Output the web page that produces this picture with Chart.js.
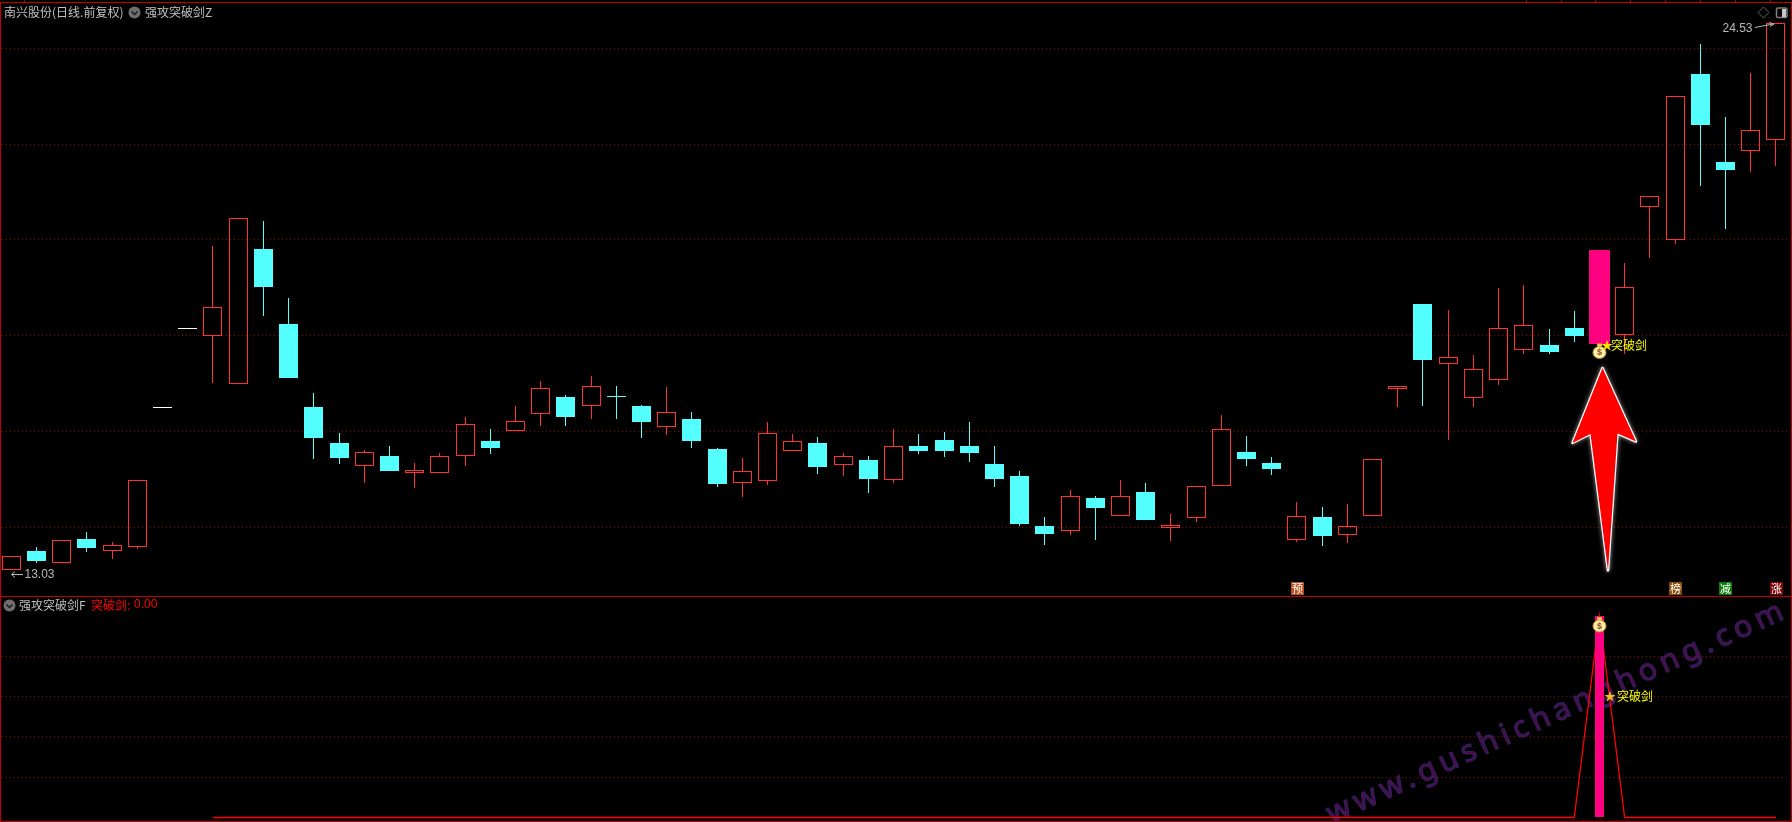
<!DOCTYPE html>
<html>
<head>
<meta charset="utf-8">
<title>强攻突破剑</title>
<script src="https://cdn.jsdelivr.net/npm/chart.js@4"></script>
<style>
	html, body { margin: 0; padding: 0; background: #000; overflow: hidden; }
	canvas { display: block; }
</style>
</head>
<body>
<canvas id="klineChart" width="1792" height="822"></canvas>
<script>
"use strict";

const opens = [13.10, 13.50, 13.25, 13.75, 13.51, 13.58, 16.48, 18.13, 18.00, 17.00, 19.81, 18.24, 16.51, 15.76, 15.28, 15.49, 15.14, 15.14, 15.49, 15.80, 16.01, 16.37, 16.72, 16.54, 16.71, 16.53, 16.10, 16.26, 15.63, 14.93, 14.97, 15.60, 15.76, 15.30, 15.40, 14.99, 15.70, 15.82, 15.70, 15.32, 15.07, 14.03, 13.92, 14.61, 14.24, 14.73, 13.99, 14.20, 14.87, 15.57, 15.34, 13.74, 14.21, 13.84, 14.24, 16.89, 18.66, 17.41, 16.70, 17.08, 17.71, 17.80, 18.16, 17.83, 18.01, 20.69, 19.99, 23.46, 21.62, 21.86, 22.08];
const highs = [13.39, 13.59, 13.73, 13.90, 13.69, 14.99, 16.48, 18.13, 19.87, 20.45, 20.39, 18.78, 16.80, 15.97, 15.61, 15.70, 15.34, 15.55, 16.30, 16.05, 16.53, 17.05, 16.76, 17.16, 16.95, 16.55, 16.93, 16.41, 15.65, 15.44, 16.20, 15.95, 15.88, 15.55, 15.49, 16.05, 15.95, 15.99, 16.20, 15.70, 15.17, 14.21, 14.78, 14.65, 14.99, 14.92, 14.28, 14.87, 16.34, 15.90, 15.47, 14.53, 14.42, 14.48, 15.42, 16.94, 18.66, 18.53, 17.60, 18.99, 19.06, 18.14, 18.51, 19.79, 19.52, 20.91, 23.00, 24.09, 22.56, 23.48, 24.53];
const lows = [13.10, 13.26, 13.25, 13.49, 13.34, 13.55, 16.48, 18.13, 17.02, 17.00, 18.41, 17.11, 15.42, 15.32, 14.92, 15.17, 14.82, 15.14, 15.28, 15.53, 16.01, 16.11, 16.11, 16.26, 16.26, 15.86, 15.92, 15.65, 14.84, 14.63, 14.88, 15.60, 15.11, 15.07, 14.71, 14.92, 15.53, 15.47, 15.36, 14.84, 14.03, 13.63, 13.84, 13.73, 14.24, 14.15, 13.71, 14.11, 14.87, 15.28, 15.09, 13.69, 13.61, 13.67, 14.24, 16.51, 16.53, 15.82, 16.51, 16.97, 17.62, 17.62, 17.87, 17.83, 17.62, 19.63, 19.92, 21.13, 20.23, 21.42, 21.55];
const closes = [13.39, 13.30, 13.73, 13.57, 13.62, 14.99, 16.48, 18.13, 18.59, 20.45, 19.01, 17.11, 15.86, 15.44, 15.58, 15.17, 15.19, 15.48, 16.15, 15.65, 16.21, 16.90, 16.30, 16.94, 16.71, 16.20, 16.40, 15.80, 14.90, 15.17, 15.96, 15.79, 15.26, 15.48, 15.01, 15.69, 15.59, 15.59, 15.55, 15.01, 14.07, 13.86, 14.65, 14.40, 14.65, 14.15, 14.04, 14.87, 16.06, 15.42, 15.22, 14.23, 13.82, 14.02, 15.42, 16.94, 17.49, 17.55, 17.30, 18.15, 18.22, 17.66, 17.99, 19.79, 19.01, 20.91, 23.00, 22.40, 21.46, 22.29, 24.52];

// the day the signal fires
const signalIndex = [63];
const signalCandleLow = [17.83];
const signalCandleHigh = [19.79];
const signalBar = [5];
// 突破剑 line in the lower pane, starts at candle 8
const signalLineStart = 8;
const signalLine = [
	0, 0, 0, 0, 0, 0, 0, 0, 0, 0,
	0, 0, 0, 0, 0, 0, 0, 0, 0, 0,
	0, 0, 0, 0, 0, 0, 0, 0, 0, 0,
	0, 0, 0, 0, 0, 0, 0, 0, 0, 0,
	0, 0, 0, 0, 0, 0, 0, 0, 0, 0,
	0, 0, 0, 0, 0, 5, 0, 0, 0, 0,
	0, 0, 0
];

const priceGrid = [14, 16, 18, 20, 22, 24];
const signalGrid = [1, 2, 3, 4];
const badges = [
	{ index: 51, text: "预", color: "#b5501c" },
	{ index: 66, text: "榜", color: "#8a4c0c" },
	{ index: 68, text: "减", color: "#0a7d0a" },
	{ index: 70, text: "涨", color: "#7d0508" }
];

const RED = "#ff3232";
const CYAN = "#54ffff";
const PINK = "#ff0080";
const FRAME = "#c00000";
const GRID = "#a00000";
const CJK = "\"Noto Sans CJK SC\", sans-serif";
const LATIN = "\"Liberation Sans\", sans-serif";

const candleColor = index => {
	if (opens[index] === closes[index]) {
		return index === 24 ? CYAN : "#ffffff";
	}
	return closes[index] > opens[index] ? RED : CYAN;
};

const candleFill = index => {
	if (opens[index] === closes[index]) {
		return candleColor(index);
	}
	return closes[index] > opens[index] ? "transparent" : CYAN;
};

const bodyData = opens.map((open, index) => ({ x: index, y: [open, closes[index]] }));
const upperWickData = opens.map((open, index) => ({ x: index, y: [Math.max(open, closes[index]), highs[index]] }));
const lowerWickData = opens.map((open, index) => ({ x: index, y: [lows[index], Math.min(open, closes[index])] }));

// bars land on fractional x, round them to whole pixels so edges stay sharp
const snapBars = {
	id: "snapBars",
	afterDatasetsUpdate(chart) {
		for (let meta of chart.getSortedVisibleDatasetMetas()) {
			if (meta.type !== "bar") {
				continue;
			}
			for (let bar of meta.data) {
				bar.x = Math.round(bar.x - bar.width / 2) + bar.width / 2;
				let top = Math.round(bar.y);
				let base = Math.round(bar.base);
				if (top === base && bar.y !== bar.base) {
					base = top + 1;
				}
				bar.y = top;
				bar.base = base;
			}
		}
	}
};

const drawWatermark = ctx => {
	ctx.save();
	ctx.translate(1332, 824);
	ctx.rotate(-24.4 * Math.PI / 180);
	ctx.font = "30px \"Noto Sans\", sans-serif";
	ctx.letterSpacing = "5.4px";
	ctx.textBaseline = "alphabetic";
	ctx.lineWidth = 1.2;
	ctx.strokeStyle = "rgba(50, 45, 120, 0.8)";
	ctx.strokeText("www.gushichanghong.com", 0, 0);
	ctx.fillStyle = "rgba(80, 18, 85, 0.85)";
	ctx.fillText("www.gushichanghong.com", 0, 0);
	ctx.restore();
};

const drawFrame = ctx => {
	ctx.fillStyle = FRAME;
	ctx.fillRect(0, 2, 1792, 1);
	ctx.fillRect(0, 2, 1, 820);
	ctx.fillRect(1791, 2, 1, 820);
	ctx.fillRect(0, 596, 1792, 1);
	ctx.fillRect(0, 821, 1792, 1);
	for (let x of [24, 1526, 1561, 1595, 1630, 1665, 1700, 1735, 1770]) {
		ctx.fillRect(x, 0, 1, 2);
	}
};

const drawToggle = (ctx, x, y) => {
	ctx.beginPath();
	ctx.arc(x, y, 6, 0, Math.PI * 2);
	ctx.fillStyle = "#6e6e6e";
	ctx.fill();
	ctx.beginPath();
	ctx.moveTo(x - 3, y - 1);
	ctx.lineTo(x, y + 2);
	ctx.lineTo(x + 3, y - 1);
	ctx.strokeStyle = "#1a1a1a";
	ctx.lineWidth = 1.5;
	ctx.stroke();
};

const drawText = (ctx, text, x, y, color, font) => {
	ctx.font = font;
	ctx.fillStyle = color;
	ctx.textAlign = "left";
	ctx.textBaseline = "middle";
	ctx.fillText(text, x, y);
};

const drawMoneyBag = (ctx, x, y) => {
	ctx.fillStyle = "#e8c020";
	ctx.fillRect(x - 2, y - 9, 5, 3);
	ctx.fillStyle = "#fff";
	ctx.fillRect(x - 1, y - 7, 3, 2);
	ctx.beginPath();
	ctx.ellipse(x + 0.5, y, 6.5, 6, 0, 0, Math.PI * 2);
	ctx.fillStyle = "#fbeea6";
	ctx.fill();
	ctx.strokeStyle = "#c89a18";
	ctx.lineWidth = 1;
	ctx.stroke();
	ctx.font = "bold 9px " + LATIN;
	ctx.fillStyle = "#8a4a2a";
	ctx.textAlign = "center";
	ctx.textBaseline = "middle";
	ctx.fillText("$", x + 0.5, y + 0.5);
};

const drawArrow = (ctx, x) => {
	ctx.save();
	ctx.beginPath();
	ctx.moveTo(x + 3.5, 368);
	ctx.lineTo(x + 37, 441.5);
	ctx.lineTo(x + 18.5, 433.5);
	ctx.lineTo(x + 9, 570.5);
	ctx.lineTo(x - 8.5, 434);
	ctx.lineTo(x - 26.5, 443);
	ctx.closePath();
	ctx.shadowColor = "rgba(255, 255, 255, 0.7)";
	ctx.shadowBlur = 4;
	ctx.lineJoin = "round";
	ctx.lineWidth = 2.5;
	ctx.strokeStyle = "#ffffff";
	ctx.stroke();
	ctx.shadowBlur = 0;
	ctx.fillStyle = "#ff0000";
	ctx.fill();
	ctx.restore();
};

const overlay = {
	id: "overlay",
	beforeDatasetsDraw(chart) {
		drawWatermark(chart.ctx);
	},
	afterDraw(chart) {
		let ctx = chart.ctx;
		let xScale = chart.scales.x;
		let signalX = Math.round(xScale.getPixelForValue(signalIndex[0]));

		drawFrame(ctx);

		drawText(ctx, "南兴股份(日线.前复权)", 4, 12, "#c0c0c0", "12px " + CJK);
		drawToggle(ctx, 134.5, 12.5);
		drawText(ctx, "强攻突破剑Z", 145, 12, "#c0c0c0", "12px " + CJK);

		drawToggle(ctx, 9.5, 605.5);
		drawText(ctx, "强攻突破剑F", 19, 605, "#c0c0c0", "12px " + CJK);
		drawText(ctx, "突破剑:", 91, 605, "#ff0000", "12px " + CJK);
		drawText(ctx, "0.00", 134, 605, "#ff0000", "12px " + LATIN);

		// price labels of the highest and lowest point
		drawText(ctx, "24.53", 1722.5, 28.5, "#b8b8b8", "12px " + LATIN);
		ctx.strokeStyle = "#b8b8b8";
		ctx.lineWidth = 1;
		ctx.beginPath();
		ctx.moveTo(1755, 27.5);
		ctx.lineTo(1773, 24);
		ctx.moveTo(1769, 22.5);
		ctx.lineTo(1774, 24);
		ctx.lineTo(1770, 26.5);
		ctx.stroke();
		drawText(ctx, "13.03", 24.5, 575, "#b8b8b8", "12px " + LATIN);
		ctx.beginPath();
		ctx.moveTo(23, 574.5);
		ctx.lineTo(11.5, 574.5);
		ctx.moveTo(15, 571.5);
		ctx.lineTo(11.5, 574.5);
		ctx.lineTo(15, 577.5);
		ctx.stroke();

		// signal marks in both panes
		drawMoneyBag(ctx, signalX, 352.5);
		drawText(ctx, "★", signalX + 2, 345, "#ffe000", "12px " + CJK);
		drawText(ctx, "突破剑", signalX + 12, 345, "#ffff00", "12px " + CJK);
		drawMoneyBag(ctx, signalX, 626);
		drawText(ctx, "★", signalX + 5, 696, "#e6c020", "12px " + CJK);
		drawText(ctx, "突破剑", signalX + 18, 696, "#ffff00", "12px " + CJK);

		drawArrow(ctx, signalX);

		for (let badge of badges) {
			let x = Math.round(xScale.getPixelForValue(badge.index));
			ctx.fillStyle = badge.color;
			ctx.fillRect(x - 6, 582, 13, 13);
			ctx.font = "11px " + CJK;
			ctx.fillStyle = "#ffffff";
			ctx.textAlign = "center";
			ctx.textBaseline = "middle";
			ctx.fillText(badge.text, x + 0.5, 588.5);
		}

		// corner buttons
		ctx.strokeStyle = "#666666";
		ctx.lineWidth = 1;
		ctx.beginPath();
		ctx.moveTo(1763.5, 7);
		ctx.lineTo(1769, 12.5);
		ctx.lineTo(1763.5, 18);
		ctx.lineTo(1758, 12.5);
		ctx.closePath();
		ctx.stroke();
		ctx.strokeStyle = "#808080";
		ctx.lineWidth = 1.5;
		ctx.beginPath();
		ctx.roundRect(1776.5, 8, 10.5, 9.5, 1.5);
		ctx.stroke();
		ctx.fillStyle = "#c8c8c8";
		ctx.fillRect(1782, 9, 4, 8);
	}
};

const hiddenAxis = (stackWeight, min, max, gridValues) => ({
	type: "linear",
	position: "left",
	stack: "panes",
	stackWeight: stackWeight,
	min: min,
	max: max,
	afterBuildTicks: axis => {
		axis.ticks = gridValues.map(value => ({ value: value }));
	},
	ticks: { display: false },
	border: { display: false, dash: [1, 3] },
	grid: { color: GRID, lineWidth: 1, drawTicks: false }
});

new Chart(document.querySelector("canvas#klineChart"), {
	data: {
		datasets: [{
			type: "line",
			label: "突破剑线",
			yAxisID: "ySignal",
			data: signalLine.map((value, index) => ({ x: signalLineStart + index, y: value })),
			borderColor: "#ff0000",
			borderWidth: 1.3,
			pointRadius: 0,
			tension: 0,
			clip: false,
			order: 6
		}, {
			type: "bar",
			label: "上影",
			yAxisID: "y",
			data: upperWickData,
			barThickness: 1,
			backgroundColor: context => candleColor(context.dataIndex),
			borderWidth: 0,
			inflateAmount: 0,
			order: 5
		}, {
			type: "bar",
			label: "下影",
			yAxisID: "y",
			data: lowerWickData,
			barThickness: 1,
			backgroundColor: context => candleColor(context.dataIndex),
			borderWidth: 0,
			inflateAmount: 0,
			order: 4
		}, {
			type: "bar",
			label: "K线",
			yAxisID: "y",
			data: bodyData,
			barThickness: 19,
			minBarLength: 1,
			backgroundColor: context => candleFill(context.dataIndex),
			borderColor: context => candleColor(context.dataIndex),
			borderWidth: 1,
			borderSkipped: false,
			inflateAmount: 0,
			clip: false,
			order: 3
		}, {
			type: "bar",
			label: "突破剑K线",
			yAxisID: "y",
			data: signalIndex.map((index, position) => ({ x: index, y: [signalCandleLow[position], signalCandleHigh[position]] })),
			barThickness: 21,
			backgroundColor: PINK,
			borderWidth: 0,
			inflateAmount: 0,
			order: 2
		}, {
			type: "bar",
			label: "突破剑",
			yAxisID: "ySignal",
			data: signalIndex.map((index, position) => ({ x: index, y: [0, signalBar[position]] })),
			barThickness: 9,
			backgroundColor: PINK,
			borderWidth: 0,
			inflateAmount: 0,
			order: 1
		}]
	},
	options: {
		responsive: false,
		animation: false,
		layout: { padding: { left: 2, right: 5, top: 3, bottom: 1 } },
		plugins: {
			legend: { display: false },
			tooltip: { enabled: false }
		},
		scales: {
			x: {
				type: "linear",
				display: false,
				stacked: true,
				offset: false,
				min: -0.369,
				max: 70.44
			},
			ySignal: hiddenAxis(225, -0.087, 5.503, signalGrid),
			y: hiddenAxis(593, 12.564, 24.944, priceGrid)
		}
	},
	plugins: [snapBars, overlay]
});
</script>
</body>
</html>
